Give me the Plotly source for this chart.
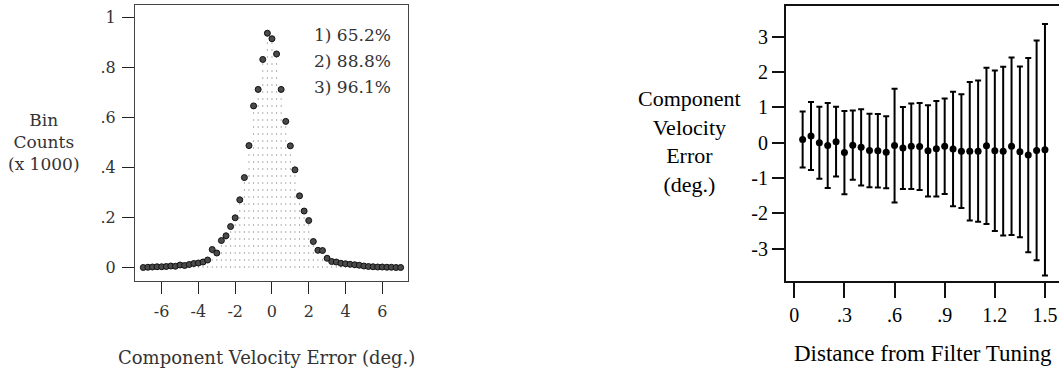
import plotly.graph_objects as go

# ---------------- data ----------------
# Left panel: histogram of component velocity error (bin counts x 1000)
hist_x = [-7.0 + 0.25 * i for i in range(57)]
hist_y = [0.000, 0.001, 0.002, 0.003, 0.003, 0.004, 0.006, 0.005, 0.010, 0.008,
          0.012, 0.016, 0.018, 0.022, 0.030, 0.072, 0.058, 0.108, 0.127, 0.164,
          0.199, 0.271, 0.360, 0.488, 0.647, 0.713, 0.833, 0.938, 0.916, 0.855,
          0.713, 0.585, 0.487, 0.391, 0.287, 0.226, 0.188, 0.104, 0.069, 0.068,
          0.037, 0.024, 0.022, 0.017, 0.015, 0.013, 0.011, 0.009, 0.006, 0.004,
          0.003, 0.002, 0.002, 0.001, 0.001, 0.000, 0.000]
left_xticks = [-6, -4, -2, 0, 2, 4, 6]
left_xticktext = ["-6", "-4", "-2", "0", "2", "4", "6"]
left_yticks = [0, 0.2, 0.4, 0.6, 0.8, 1.0]
left_yticktext = ["0", ".2", ".4", ".6", ".8", "1"]
pct_labels = ["1) 65.2%", "2) 88.8%", "3) 96.1%"]

# Right panel: mean component velocity error vs distance from filter tuning
dist = [0.05 * (i + 1) for i in range(30)]
err_mean = [0.09, 0.19, 0.00, -0.08, 0.03, -0.28, -0.07, -0.13, -0.22, -0.23,
            -0.27, -0.08, -0.15, -0.10, -0.11, -0.23, -0.17, -0.10, -0.18, -0.24,
            -0.24, -0.24, -0.09, -0.23, -0.24, -0.10, -0.26, -0.35, -0.22, -0.20]
err_sd = [0.79, 0.96, 1.02, 1.20, 0.99, 1.18, 0.98, 1.08, 1.04, 1.04,
          1.02, 1.61, 1.16, 1.21, 1.23, 1.29, 1.35, 1.35, 1.62, 1.61,
          1.96, 2.00, 2.21, 2.27, 2.39, 2.51, 2.42, 2.75, 3.11, 3.56]
right_xticks = [0, 0.3, 0.6, 0.9, 1.2, 1.5]
right_xticktext = ["0", ".3", ".6", ".9", "1.2", "1.5"]
right_yticks = [-3, -2, -1, 0, 1, 2, 3]
right_yticktext = ["-3", "-2", "-1", "0", "1", "2", "3"]

W, H = 1059, 368


def px(x):
    return x / W


def py(y):
    return 1 - y / H


LEFT_FONT = "DejaVu Serif"
RIGHT_FONT = "Liberation Serif"

fig = go.Figure()

# dotted drop lines under each histogram point
dl_x, dl_y = [], []
for xv, yv in zip(hist_x, hist_y):
    dl_x += [xv, xv, None]
    dl_y += [0, yv, None]
fig.add_trace(go.Scatter(x=dl_x, y=dl_y, mode="lines", xaxis="x", yaxis="y",
                         line=dict(color="#666666", width=1, dash="1px,6px"),
                         hoverinfo="skip", showlegend=False))
fig.add_trace(go.Scatter(x=hist_x, y=hist_y, mode="markers", xaxis="x", yaxis="y",
                         marker=dict(size=6, color="#4a4a4a",
                                     line=dict(color="#111111", width=1)),
                         showlegend=False))

fig.add_trace(go.Scatter(x=dist, y=err_mean, mode="markers", xaxis="x2", yaxis="y2",
                         marker=dict(size=7, color="black"),
                         error_y=dict(type="data", array=err_sd, visible=True,
                                      color="black", thickness=2, width=3),
                         showlegend=False))

left_axis_common = dict(showgrid=False, zeroline=False, showline=True, mirror=True,
                        linecolor="#444444", linewidth=1, ticks="outside",
                        tickcolor="#222222", tickwidth=1, ticklen=12,
                        tickfont=dict(family=LEFT_FONT, size=16, color="#333333"))
right_axis_common = dict(showgrid=False, zeroline=False, showline=True,
                         linecolor="#111111", linewidth=2, ticks="outside",
                         tickcolor="#111111", tickwidth=2,
                         tickfont=dict(family=RIGHT_FONT, size=20, color="black"))

fig.update_layout(
    width=W, height=H,
    margin=dict(l=0, r=0, t=0, b=0),
    paper_bgcolor="white", plot_bgcolor="white",
    xaxis=dict(domain=[px(135), px(408)], anchor="y", range=[-7.45, 7.40],
               tickmode="array", tickvals=left_xticks, ticktext=left_xticktext,
               ticklabelstandoff=4, **left_axis_common),
    yaxis=dict(domain=[py(281), py(5)], anchor="x", range=[-0.054, 1.051],
               tickmode="array", tickvals=left_yticks, ticktext=left_yticktext,
               ticklabelstandoff=3, **left_axis_common),
    xaxis2=dict(domain=[px(786), 1.0], anchor="y2", range=[-0.0496, 1.584],
                tickmode="array", tickvals=right_xticks, ticktext=right_xticktext,
                ticklen=15, mirror=True, **right_axis_common),
    yaxis2=dict(domain=[py(281), py(6)], anchor="x2", range=[-3.915, 3.869],
                tickmode="array", tickvals=right_yticks, ticktext=right_yticktext,
                ticklen=12, mirror=False, **right_axis_common),
)

ann = []
P = dict(xref="paper", yref="paper", showarrow=False)
# left panel texts
ann.append(dict(x=px(44), y=py(142), text="Bin<br>Counts<br>(x 1000)",
                xanchor="center", yanchor="middle", align="center",
                font=dict(family=LEFT_FONT, size=17, color="#333333"), **P))
ann.append(dict(x=px(266), y=py(357), text="Component Velocity Error (deg.)",
                xanchor="center", yanchor="middle",
                font=dict(family=LEFT_FONT, size=18, color="#333333"), **P))
for i, t in enumerate(pct_labels):
    ann.append(dict(x=px(393), y=py(35 + 26 * i), text=t,
                    xanchor="right", yanchor="middle",
                    font=dict(family=LEFT_FONT, size=17, color="#333333"), **P))
# right panel texts
ann.append(dict(x=px(689), y=py(141), text="Component<br>Velocity<br>Error<br>(deg.)",
                xanchor="center", yanchor="middle", align="center",
                font=dict(family=RIGHT_FONT, size=22, color="black"), **P))
ann.append(dict(x=px(923), y=py(353), text="Distance from Filter Tuning",
                xanchor="center", yanchor="middle",
                font=dict(family=RIGHT_FONT, size=23, color="black"), **P))
fig.update_layout(annotations=ann)

fig.write_html("out.html", config={"displayModeBar": False},
               post_script="document.body.style.margin='0';")
